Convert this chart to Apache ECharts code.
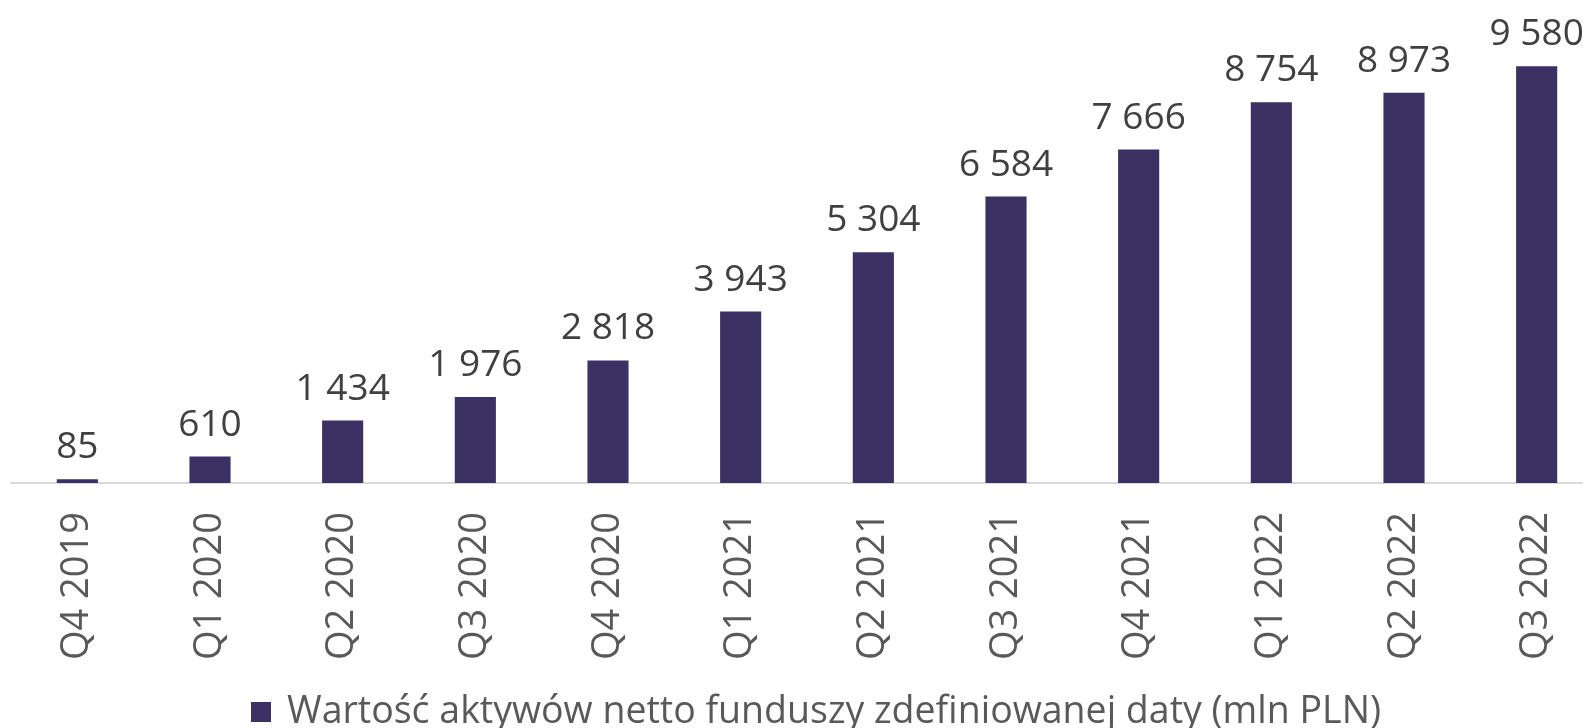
<!DOCTYPE html>
<html>
<head>
<meta charset="utf-8">
<script src="https://cdn.jsdelivr.net/npm/echarts@6/dist/echarts.min.js"></script>
<style>
  html, body { margin: 0; padding: 0; background: #ffffff; }
  #chart { width: 1583px; height: 728px; }
</style>
</head>
<body>
<div id="chart"></div>
<script>
// Quarterly net asset value of target-date funds (mln PLN)
const categories = ['Q4 2019', 'Q1 2020', 'Q2 2020', 'Q3 2020', 'Q4 2020', 'Q1 2021',
                    'Q2 2021', 'Q3 2021', 'Q4 2021', 'Q1 2022', 'Q2 2022', 'Q3 2022'];
const netAssets = [85, 610, 1434, 1976, 2818, 3943, 5304, 6584, 7666, 8754, 8973, 9580];
const seriesName = 'Wartość aktywów netto funduszy zdefiniowanej daty (mln PLN)';

const FONT = '"Open Sans", "Noto Sans", sans-serif';

function spaced(v) {
  return String(v).replace(/\B(?=(\d{3})+(?!\d))/g, ' ');
}

const chart = echarts.init(document.getElementById('chart'), null, { renderer: 'canvas' });
chart.setOption({
  animation: false,
  backgroundColor: '#ffffff',
  // the plot runs a little past the right edge, so the last bar sits at the border
  grid: { left: 11, width: 1592, top: 48, height: 435, containLabel: false, outerBoundsMode: 'none' },
  legend: {
    left: 246,
    top: 688,
    itemWidth: 20,
    itemHeight: 20,
    icon: 'rect',
    textStyle: { fontFamily: FONT, fontSize: 37.5, color: '#595959', padding: [0, 0, 0, 11] },
    data: [seriesName]
  },
  xAxis: {
    type: 'category',
    data: categories,
    axisLine: { show: true, lineStyle: { color: '#d9d9d9', width: 2 } },
    axisTick: { show: false },
    axisLabel: {
      interval: 0,
      rotate: 90,
      margin: 29,
      fontFamily: FONT,
      fontSize: 38,
      color: '#595959'
    }
  },
  yAxis: {
    type: 'value',
    min: 0,
    max: 10000,
    show: false,
    splitLine: { show: false }
  },
  series: [{
    name: seriesName,
    type: 'bar',
    data: netAssets,
    barWidth: '31%',
    itemStyle: { color: '#3c3163' },
    label: {
      show: true,
      position: 'top',
      distance: 13,
      fontFamily: FONT,
      fontSize: 37,
      color: '#404040',
      formatter: p => spaced(p.value)
    }
  }]
});
</script>
</body>
</html>
